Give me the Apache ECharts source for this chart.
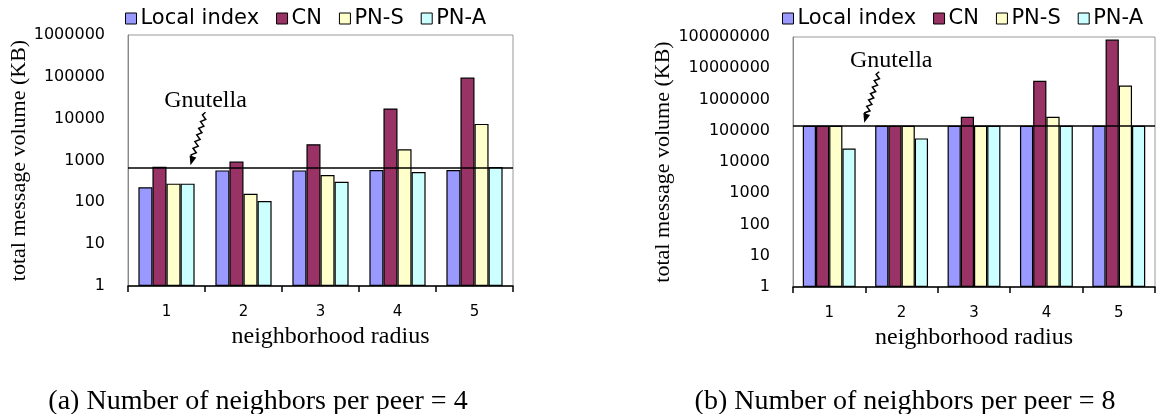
<!DOCTYPE html>
<html>
<head>
<meta charset="utf-8">
<script src="https://cdn.jsdelivr.net/npm/echarts@6/dist/echarts.min.js"></script>
<style>
html,body{margin:0;padding:0;background:#fff;}
#chart{width:1159px;height:414px;}
</style>
</head>
<body>
<div id="chart"></div>
<script>
// ---- data ----
const radius = ['1', '2', '3', '4', '5'];
const seriesNames = ['Local index', 'CN', 'PN-S', 'PN-A'];
// (a) 4 neighbors per peer
const localIndex4 = [230, 580, 580, 590, 590];
const cn4 = [710, 940, 2450, 17500, 96000];
const pnS4 = [280, 160, 450, 1850, 7500];
const pnA4 = [280, 108, 310, 530, 700];
const gnutella4 = 655;
// (b) 8 neighbors per peer
const localIndex8 = [145000, 145000, 145000, 145000, 145000];
const cn8 = [145000, 145000, 280000, 4000000, 83000000];
const pnS8 = [145000, 145000, 145000, 280000, 2800000];
const pnA8 = [27000, 57000, 145000, 145000, 145000];
const gnutella8 = 145000;
const yMax4 = 1000000;
const yMax8 = 100000000;
const captionA = '(a) Number of neighbors per peer = 4';
const captionB = '(b) Number of neighbors per peer = 8';

const colors = ['#9999FF', '#993366', '#FFFFCC', '#CCFFFF'];
const serif = 'Liberation Serif';
const sans = 'DejaVu Sans';

const chart = echarts.init(document.getElementById('chart'), null, {renderer: 'canvas'});

function xAx(gi, shift) {
  return {
    type: 'category', gridIndex: gi, data: radius,
    axisLine: {lineStyle: {color: '#000', width: 1.5}},
    axisTick: {show: true, length: 6, lineStyle: {color: '#000', width: 1.5}},
    axisLabel: {color: '#000', fontFamily: sans, fontSize: 15, margin: 19},
    name: 'neighborhood radius', nameLocation: 'middle', nameGap: 32,
    nameTextStyle: {color: '#000', fontFamily: serif, fontSize: 24,
      padding: shift > 0 ? [0, 0, 0, 2 * shift] : [0, -2 * shift, 0, 0]}
  };
}
function yAx(gi, max, split, gap) {
  return {
    type: 'log', logBase: 10, gridIndex: gi, min: 1, max: max, splitNumber: split,
    axisLine: {show: true, lineStyle: {color: '#888', width: 1}},
    axisTick: {show: false},
    splitLine: {show: false},
    axisLabel: {color: '#000', fontFamily: sans, fontSize: 16, margin: 23,
      formatter: v => String(Math.round(v))},
    name: 'total message volume (KB)', nameLocation: 'middle', nameGap: gap, nameRotate: 90,
    nameTextStyle: {color: '#000', fontFamily: serif, fontSize: 22}
  };
}
function bar(name, data, gi, idx, gline) {
  const s = {
    name: name, type: 'bar', xAxisIndex: gi, yAxisIndex: gi, data: data,
    barGap: '0%', barCategoryGap: '27%',
    itemStyle: {color: colors[idx], borderColor: '#000', borderWidth: 1.2},
    silent: true, animation: false
  };
  if (gline !== undefined) {
    s.markLine = {
      symbol: 'none', silent: true, z: 10, animation: false,
      label: {show: false},
      lineStyle: {color: '#000', width: 1.5, type: 'solid'},
      data: [{yAxis: gline}]
    };
  }
  return s;
}
function legend(left) {
  return {
    left: left, top: 8, padding: 0, itemGap: 17, itemWidth: 11, itemHeight: 11,
    icon: 'rect', data: seriesNames,
    itemStyle: {borderColor: '#000', borderWidth: 1},
    textStyle: {color: '#000', fontFamily: sans, fontSize: 21, padding: [0, 0, 0, -1]},
    selectedMode: false
  };
}

const d4 = [localIndex4, cn4, pnS4, pnA4];
const d8 = [localIndex8, cn8, pnS8, pnA8];
const series = [];
seriesNames.forEach((n, i) => series.push(bar(n, d4[i], 0, i, i === 3 ? gnutella4 : undefined)));
seriesNames.forEach((n, i) => series.push(bar(n, d8[i], 1, i, i === 3 ? gnutella8 : undefined)));

chart.setOption({
  animation: false,
  backgroundColor: '#fff',
  color: colors,
  legend: [legend(125), legend(782)],
  grid: [
    {left: 128, top: 35, width: 385, height: 251, show: true, borderColor: '#999', borderWidth: 1, containLabel: false},
    {left: 793, top: 37, width: 362, height: 250, show: true, borderColor: '#999', borderWidth: 1, containLabel: false}
  ],
  xAxis: [xAx(0, 10), xAx(1, 0)],
  yAxis: [yAx(0, yMax4, 6, 92), yAx(1, yMax8, 8, 113)],
  series: series
});

// ---- annotations ("Gnutella" label with zigzag arrow), anchored to the Gnutella line ----
function zigzag(x0, y0, x1, y1) {
  const pts = [];
  const n = 14;
  const dx = x1 - x0, dy = y1 - y0;
  const len = Math.sqrt(dx * dx + dy * dy);
  const px = -dy / len, py = dx / len;
  for (let i = 0; i <= n; i++) {
    const t = i / n;
    const off = (i === 0 || i === n) ? 0 : (i % 2 ? 2.2 : -2.2);
    pts.push([x0 + dx * t + px * off, y0 + dy * t + py * off]);
  }
  return pts;
}
function arrowHead(x0, y0, x1, y1) {
  const dx = x1 - x0, dy = y1 - y0;
  const len = Math.sqrt(dx * dx + dy * dy);
  const ux = dx / len, uy = dy / len;
  const L = 9, W = 3.5;
  const bx = x1 - ux * L, by = y1 - uy * L;
  return [[x1, y1], [bx - uy * W, by + ux * W], [bx + uy * W, by - ux * W]];
}
function annot(gi, gval, tipDx, topDx, topDy, textDx, textDy) {
  const p = chart.convertToPixel({xAxisIndex: gi, yAxisIndex: gi}, [0, gval]);
  const tipX = p[0] + tipDx, tipY = p[1] - 3;
  const topX = tipX + topDx, topY = tipY - topDy;
  const head = arrowHead(topX, topY, tipX, tipY);
  const shaftEnd = [tipX - (tipX - topX) * 0.12, tipY - (tipY - topY) * 0.12];
  return [
    {type: 'polyline', shape: {points: zigzag(topX, topY, shaftEnd[0], shaftEnd[1])},
      style: {stroke: '#000', lineWidth: 1.5, fill: null}, z: 20},
    {type: 'polygon', shape: {points: head}, style: {fill: '#000'}, z: 20},
    {type: 'text', x: topX + textDx, y: topY - textDy,
      style: {text: 'Gnutella', fontFamily: serif, fontSize: 24, fill: '#000', align: 'center', verticalAlign: 'middle'}, z: 20}
  ];
}
const g = [].concat(
  annot(0, gnutella4, 24, 15, 53, 0, 11),
  annot(1, gnutella8, 35, 15, 51, 12, 11),
  [
    {type: 'text', x: 258, y: 402, style: {text: captionA, fontFamily: serif, fontSize: 28, fill: '#000', align: 'center', verticalAlign: 'middle'}},
    {type: 'text', x: 905, y: 402, style: {text: captionB, fontFamily: serif, fontSize: 28, fill: '#000', align: 'center', verticalAlign: 'middle'}}
  ]
);
chart.setOption({graphic: g});
</script>
</body>
</html>
